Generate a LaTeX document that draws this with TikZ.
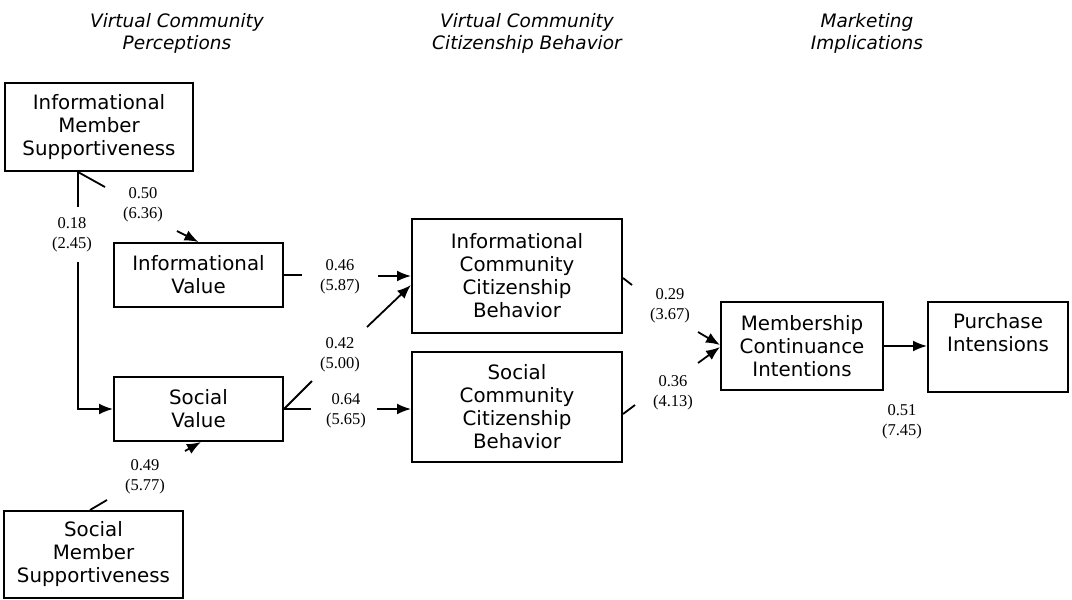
\documentclass[tikz,border=0pt]{standalone}
\usepackage{fontspec}
\setmainfont{DejaVu Sans}
\newfontfamily\numfont{Liberation Serif}
\usetikzlibrary{arrows.meta,calc}
\begin{document}
\begin{tikzpicture}[x=1pt,y=-1pt,
  box/.style={draw, line width=2pt, inner sep=0pt, align=center,
    font=\fontsize{19.8}{23}\selectfont},
  coef/.style={align=center, inner sep=0pt,
    font=\numfont\fontsize{16.5}{20}\selectfont},
  head/.style={align=center, inner sep=0pt,
    font=\itshape\fontsize{18.5}{22}\selectfont},
  link/.style={line width=1.8pt},
  arr/.style={link, -{Latex[length=14pt,width=11pt]}}]

\useasboundingbox (0,0) rectangle (1072,600);

% column headings
\node[head] (t1) at (177,33) {Virtual Community\\Perceptions};
\node[head] (t2) at (527,33) {Virtual Community\\Citizenship Behavior};
\node[head] (t3) at (867,33) {Marketing\\Implications};

% constructs
\node[box, minimum width=188pt, minimum height=88pt] (ims) at (99,127)
  {Informational\\Member\\Supportiveness};
\node[box, minimum width=169pt, minimum height=64pt] (iv) at (198.5,275)
  {Informational\\Value};
\node[box, minimum width=169pt, minimum height=64pt] (sv) at (198.5,409)
  {Social\\Value};
\node[box, minimum width=179pt, minimum height=87pt] (sms) at (93.5,554.5)
  {Social\\Member\\Supportiveness};
\node[box, minimum width=210pt, minimum height=114pt] (iccb) at (517,276)
  {Informational\\Community\\Citizenship\\Behavior};
\node[box, minimum width=210pt, minimum height=110pt] (sccb) at (517,407)
  {Social\\Community\\Citizenship\\Behavior};
\node[box, minimum width=162pt, minimum height=88pt] (mci) at (802,346)
  {Membership\\Continuance\\Intentions};
\node[box, minimum width=140pt, minimum height=90pt] (pi) at (998,347)
  {Purchase\\Intensions\\\strut};

% path coefficients (t-values)
\node[coef] (l1) at (143,205) {0.50\\(6.36)};
\node[coef] (l2) at (72,235) {0.18\\(2.45)};
\node[coef] (l3) at (145,477) {0.49\\(5.77)};
\node[coef] (l4) at (340,277) {0.46\\(5.87)};
\node[coef] (l5) at (340,355) {0.42\\(5.00)};
\node[coef] (l6) at (346,411) {0.64\\(5.65)};
\node[coef] (l7) at (670,306) {0.29\\(3.67)};
\node[coef] (l8) at (673,393) {0.36\\(4.13)};
\node[coef] (l9) at (902,422) {0.51\\(7.45)};

% break points of the paths around their labels
\coordinate (vx) at (78,0);
\coordinate (cx) at (90,0);
\coordinate (cy) at (201,0);
\coordinate (a1) at (105,187);
\coordinate (a2) at (177,231);
\coordinate (b1) at (78,207);
\coordinate (b2) at (78,262);
\coordinate (c1) at (107,500);
\coordinate (c2) at (185,451);
\coordinate (d1) at (302,0);
\coordinate (d2) at (378,0);
\coordinate (e1) at (312,381);
\coordinate (e2) at (367,327);
\coordinate (f1) at (311,0);
\coordinate (f2) at (377,0);
\coordinate (h1) at (632,285);
\coordinate (h2) at (698,332);
\coordinate (k1) at (635,405);
\coordinate (k2) at (698,363);

% Informational Member Supportiveness -> Informational Value
\draw[link] (ims.south -| vx) -- (a1);
\draw[arr] (a2) -- (iv.north);
% Informational Member Supportiveness -> Social Value
\draw[link] (ims.south -| vx) -- (b1);
\draw[arr] (b2) |- (sv.west);
% Social Member Supportiveness -> Social Value
\draw[link] (sms.north -| cx) -- (c1);
\draw[arr] (c2) -- (sv.south -| cy);
% Informational Value -> Informational CCB
\draw[link] (iv.east) -- (iv.east -| d1);
\draw[arr] (iccb.west -| d2) -- (iccb.west);
% Social Value -> Informational CCB
\draw[link] (sv.east) -- (e1);
\draw[arr] (e2) -- ($(iccb.west)+(0,9)$);
% Social Value -> Social CCB
\draw[link] (sv.east) -- (sv.east -| f1);
\draw[arr] (sv.east -| f2) -- (sv.east -| sccb.west);
% Informational CCB -> Membership Continuance Intentions
\draw[link] ($(iccb.east)+(0,2)$) -- (h1);
\draw[arr] (h2) -- ($(mci.west)+(0,-1)$);
% Social CCB -> Membership Continuance Intentions
\draw[link] ($(sccb.east)+(0,7)$) -- (k1);
\draw[arr] (k2) -- ($(mci.west)+(0,1)$);
% Membership Continuance Intentions -> Purchase Intensions
\draw[arr] (mci.east) -- (mci.east -| pi.west);

\end{tikzpicture}
\end{document}
